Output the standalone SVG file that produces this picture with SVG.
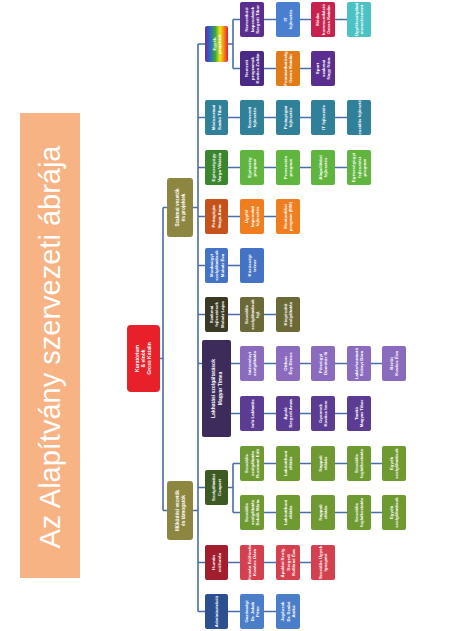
<svg xmlns="http://www.w3.org/2000/svg" width="473" height="631" viewBox="0 0 473 631">
<defs>
<linearGradient id="rainbow" x1="0" y1="0" x2="1" y2="0">
<stop offset="0" stop-color="#6a2c9c"/>
<stop offset="0.2" stop-color="#2f5fc8"/>
<stop offset="0.45" stop-color="#3aa93a"/>
<stop offset="0.65" stop-color="#f2e41a"/>
<stop offset="0.82" stop-color="#f28a1a"/>
<stop offset="1" stop-color="#e8202a"/>
</linearGradient>
</defs>
<style>
.t{font-family:"Liberation Sans",Arial,sans-serif;font-size:4.4px;font-weight:bold;fill:#fff;text-anchor:middle}
.c{fill:none;stroke:#4a6ea6;stroke-width:1.6}
rect{rx:2px}
</style>
<rect x="0" y="0" width="473" height="631" fill="#fff" style="rx:0"/>
<g id="title">
<rect x="20" y="113" width="60" height="465" fill="#f7b383" style="rx:0"/>
<text transform="translate(50,347) rotate(-90)" y="10" style="font-family:'Liberation Sans',Arial,sans-serif;font-size:29px;fill:#fff;text-anchor:middle">Az Alapítvány szervezeti ábrája</text>
</g>
<g id="connectors" class="c">
<path d="M160 358.5H163M163 207.5V510.5M163 207.5H167M163 510.5H167"/>
<path d="M193 207.5H198M198 44V611.5M198 44H205M198 117.5H205M198 167.5H205M198 216.5H205M198 265.5H205M198 314.5H205M198 363.5H202"/>
<path d="M193 510.5H198M198 487.5H205M198 562.5H205M198 611.5H205"/>
<path d="M228 44H233M233 19.5V68.5M233 19.5H240M233 68.5H240"/>
<path d="M264 19.5H276M300 19.5H311M335 19.5H347M264 68.5H276M300 68.5H311"/>
<path d="M228 117.5H240M264 117.5H276M300 117.5H311M335 117.5H347"/>
<path d="M228 167.5H240M264 167.5H276M300 167.5H311M335 167.5H347"/>
<path d="M228 216.5H240M264 216.5H276"/>
<path d="M228 265.5H240"/>
<path d="M228 314.5H240M264 314.5H276"/>
<path d="M231 363.5H240M264 363.5H276M300 363.5H311M335 363.5H347M370 363.5H382"/>
<path d="M231 413.5H240M264 413.5H276M300 413.5H311M335 413.5H347"/>
<path d="M228 487.5H233M233 463.5V512.5M233 463.5H240M233 512.5H240"/>
<path d="M264 463.5H276M300 463.5H311M335 463.5H347M370 463.5H382M264 512.5H276M300 512.5H311M335 512.5H347M370 512.5H382"/>
<path d="M228 562.5H240M264 562.5H276M300 562.5H311"/>
<path d="M228 611.5H240M264 611.5H276"/>
</g>
<g id="root"><rect x="127" y="325" width="33" height="67" fill="#e8202a" style="rx:4px"/>
<text class="t" transform="translate(143.5,358.5) rotate(-90)" style="font-size:5px"><tspan x="0" y="-4.2">Kuratórium</tspan><tspan x="0" y="1.7">&amp; elnök</tspan><tspan x="0" y="7.6">Gross Katalin</tspan></text></g>
<g id="l1-szakmai"><rect x="167" y="178" width="26" height="59" fill="#8c8641" style="rx:3px"/>
<text class="t" transform="translate(180,207.5) rotate(-90)" style="font-size:4.8px"><tspan x="0" y="-1.2">Szakmai vezetők</tspan><tspan x="0" y="4.8">és projektek</tspan></text></g>
<g id="l1-mukodesi"><rect x="167" y="481" width="26" height="59" fill="#8c8641" style="rx:3px"/>
<text class="t" transform="translate(180,510.5) rotate(-90)" style="font-size:4.8px"><tspan x="0" y="-1.2">Működési vezetők</tspan><tspan x="0" y="4.8">és támogatók</tspan></text></g>

<g id="egyeb"><rect x="205" y="26" width="23" height="36" fill="url(#rainbow)"/>
<text class="t" transform="translate(216.5,44) rotate(-90)"><tspan x="0" y="-1">Egyéb</tspan><tspan x="0" y="4.5">projektek</tspan></text></g>
<g id="egyeb-1a"><rect x="240" y="2" width="24" height="35" fill="#5b2d8e"/>
<text class="t" transform="translate(252,19.5) rotate(-90)"><tspan x="0" y="-3.9">Nemzetközi</tspan><tspan x="0" y="1.6">kapcsolatok</tspan><tspan x="0" y="7.1">Szegedi Tibor</tspan></text></g>
<g id="egyeb-1b"><rect x="276" y="2" width="24" height="35" fill="#4a7fcf"/>
<text class="t" transform="translate(288,19.5) rotate(-90)"><tspan x="0" y="-1.1">IT</tspan><tspan x="0" y="4.4">fejlesztés</tspan></text></g>
<g id="egyeb-1c"><rect x="311" y="2" width="24" height="35" fill="#c8214e"/>
<text class="t" transform="translate(323,19.5) rotate(-90)"><tspan x="0" y="-3.9">Média</tspan><tspan x="0" y="1.6">kommunikáció</tspan><tspan x="0" y="7.1">Gross Katalin</tspan></text></g>
<g id="egyeb-1d"><rect x="347" y="2" width="24" height="35" fill="#4cc2c4"/>
<text class="t" transform="translate(359,19.5) rotate(-90)"><tspan x="0" y="-1.1">Ügyfélszolgálati</tspan><tspan x="0" y="4.4">menedzsment</tspan></text></g>
<g id="egyeb-2a"><rect x="240" y="51" width="24" height="35" fill="#4b2a85"/>
<text class="t" transform="translate(252,68.5) rotate(-90)"><tspan x="0" y="-3.9">Nemzeti</tspan><tspan x="0" y="1.6">programok</tspan><tspan x="0" y="7.1">Kovács Zoltán</tspan></text></g>
<g id="egyeb-2b"><rect x="276" y="51" width="24" height="35" fill="#e07b1a"/>
<text class="t" transform="translate(288,68.5) rotate(-90)"><tspan x="0" y="-1.1">Fenntarthatóság</tspan><tspan x="0" y="4.4">Gross Katalin</tspan></text></g>
<g id="egyeb-2c"><rect x="311" y="51" width="24" height="35" fill="#5b2d8e"/>
<text class="t" transform="translate(323,68.5) rotate(-90)"><tspan x="0" y="-3.9">Sport</tspan><tspan x="0" y="1.6">szakmai</tspan><tspan x="0" y="7.1">Nagy Nóra</tspan></text></g>

<g id="modszertani"><rect x="205" y="100" width="23" height="35" fill="#31809a"/>
<text class="t" transform="translate(216.5,117.5) rotate(-90)"><tspan x="0" y="-1.1">Módszertani</tspan><tspan x="0" y="4.4">Szabó Tibor</tspan></text></g>
<g id="modsz-a"><rect x="240" y="100" width="24" height="35" fill="#31809a"/>
<text class="t" transform="translate(252,117.5) rotate(-90)"><tspan x="0" y="-1.1">Szervezeti</tspan><tspan x="0" y="4.4">fejlesztés</tspan></text></g>
<g id="modsz-b"><rect x="276" y="100" width="24" height="35" fill="#31809a"/>
<text class="t" transform="translate(288,117.5) rotate(-90)"><tspan x="0" y="-1.1">Pedagógiai</tspan><tspan x="0" y="4.4">fejlesztés</tspan></text></g>
<g id="modsz-c"><rect x="311" y="100" width="24" height="35" fill="#31809a"/>
<text class="t" transform="translate(323,117.5) rotate(-90)"><tspan x="0" y="1.6">IT fejlesztés</tspan></text></g>
<g id="modsz-d"><rect x="347" y="100" width="24" height="35" fill="#31809a"/>
<text class="t" transform="translate(359,117.5) rotate(-90)"><tspan x="0" y="1.6">Szociális fejlesztés</tspan></text></g>

<g id="egeszseg"><rect x="205" y="150" width="23" height="35" fill="#3a862e"/>
<text class="t" transform="translate(216.5,167.5) rotate(-90)"><tspan x="0" y="-1.1">Egészségügy</tspan><tspan x="0" y="4.4">Varga Viktória</tspan></text></g>
<g id="eg-a"><rect x="240" y="150" width="24" height="35" fill="#5fb53d"/>
<text class="t" transform="translate(252,167.5) rotate(-90)"><tspan x="0" y="-1.1">Egészség</tspan><tspan x="0" y="4.4">program</tspan></text></g>
<g id="eg-b"><rect x="276" y="150" width="24" height="35" fill="#5fb53d"/>
<text class="t" transform="translate(288,167.5) rotate(-90)"><tspan x="0" y="-1.1">Prevenciós</tspan><tspan x="0" y="4.4">program</tspan></text></g>
<g id="eg-c"><rect x="311" y="150" width="24" height="35" fill="#5fb53d"/>
<text class="t" transform="translate(323,167.5) rotate(-90)"><tspan x="0" y="-1.1">Alapellátási</tspan><tspan x="0" y="4.4">fejlesztés</tspan></text></g>
<g id="eg-d"><rect x="347" y="150" width="24" height="35" fill="#5fb53d"/>
<text class="t" transform="translate(359,167.5) rotate(-90)"><tspan x="0" y="-3.9">Egészségügyi</tspan><tspan x="0" y="1.6">fejlesztési</tspan><tspan x="0" y="7.1">program</tspan></text></g>

<g id="pedagogia"><rect x="205" y="199" width="23" height="35" fill="#c4521a"/>
<text class="t" transform="translate(216.5,216.5) rotate(-90)"><tspan x="0" y="-1.1">Pedagógia</tspan><tspan x="0" y="4.4">Varga Anna</tspan></text></g>
<g id="ped-a"><rect x="240" y="199" width="24" height="35" fill="#f07e1f"/>
<text class="t" transform="translate(252,216.5) rotate(-90)"><tspan x="0" y="-3.9">Ügyfél</tspan><tspan x="0" y="1.6">kapcsolati</tspan><tspan x="0" y="7.1">fejlesztés</tspan></text></g>
<g id="ped-b"><rect x="276" y="199" width="24" height="35" fill="#f07e1f"/>
<text class="t" transform="translate(288,216.5) rotate(-90)"><tspan x="0" y="-1.1">Mentorálási</tspan><tspan x="0" y="4.4">program (MM)</tspan></text></g>

<g id="munkaugy"><rect x="205" y="248" width="23" height="35" fill="#4472c4"/>
<text class="t" transform="translate(216.5,265.5) rotate(-90)"><tspan x="0" y="-3.9">Munkaügyi</tspan><tspan x="0" y="1.6">szolgáltatások</tspan><tspan x="0" y="7.1">Molnár Éva</tspan></text></g>
<g id="munka-a"><rect x="240" y="248" width="24" height="35" fill="#4472c4"/>
<text class="t" transform="translate(252,265.5) rotate(-90)"><tspan x="0" y="-1.1">Közösségi</tspan><tspan x="0" y="4.4">tréner</tspan></text></g>

<g id="szakmai"><rect x="205" y="297" width="23" height="35" fill="#3b3923"/>
<text class="t" transform="translate(216.5,314.5) rotate(-90)"><tspan x="0" y="-3.9">Szakmai</tspan><tspan x="0" y="1.6">fejlesztések</tspan><tspan x="0" y="7.1">Molnár Lajos</tspan></text></g>
<g id="szak-a"><rect x="240" y="297" width="24" height="35" fill="#6b6936"/>
<text class="t" transform="translate(252,314.5) rotate(-90)"><tspan x="0" y="-3.9">Szociális</tspan><tspan x="0" y="1.6">szolgáltatások</tspan><tspan x="0" y="7.1">fejl.</tspan></text></g>
<g id="szak-b"><rect x="276" y="297" width="24" height="35" fill="#6b6936"/>
<text class="t" transform="translate(288,314.5) rotate(-90)"><tspan x="0" y="-1.1">Kiegészítő</tspan><tspan x="0" y="4.4">szolgáltatás</tspan></text></g>

<g id="lakhatasi"><rect x="202" y="340" width="29" height="97" fill="#3d2b5c"/>
<text class="t" transform="translate(216.5,388.5) rotate(-90)" style="font-size:5px"><tspan x="0" y="-1.2">Lakhatási szolgáltatások</tspan><tspan x="0" y="5">Magyar Tímea</tspan></text></g>
<g id="lak-1a"><rect x="240" y="346" width="24" height="35" fill="#8a6bbd"/>
<text class="t" transform="translate(252,363.5) rotate(-90)"><tspan x="0" y="-1.1">Intézményi</tspan><tspan x="0" y="4.4">szolgáltatás</tspan></text></g>
<g id="lak-1b"><rect x="276" y="346" width="24" height="35" fill="#8a6bbd"/>
<text class="t" transform="translate(288,363.5) rotate(-90)"><tspan x="0" y="-1.1">Otthon</tspan><tspan x="0" y="4.4">Évy Dénes</tspan></text></g>
<g id="lak-1c"><rect x="311" y="346" width="24" height="35" fill="#8a6bbd"/>
<text class="t" transform="translate(323,363.5) rotate(-90)"><tspan x="0" y="-1.1">Pénzügyi</tspan><tspan x="0" y="4.4">Dömötör Ili</tspan></text></g>
<g id="lak-1d"><rect x="347" y="346" width="24" height="35" fill="#8a6bbd"/>
<text class="t" transform="translate(359,363.5) rotate(-90)"><tspan x="0" y="-1.1">Lakásfenntartó</tspan><tspan x="0" y="4.4">Szőnyi Dóra</tspan></text></g>
<g id="lak-1e"><rect x="382" y="346" width="24" height="35" fill="#8a6bbd"/>
<text class="t" transform="translate(394,363.5) rotate(-90)"><tspan x="0" y="-1.1">Bérlői</tspan><tspan x="0" y="4.4">Kovács Éva</tspan></text></g>
<g id="lak-2a"><rect x="240" y="396" width="24" height="35" fill="#5c3b93"/>
<text class="t" transform="translate(252,413.5) rotate(-90)"><tspan x="0" y="1.6">Infó Lakhatás</tspan></text></g>
<g id="lak-2b"><rect x="276" y="396" width="24" height="35" fill="#5c3b93"/>
<text class="t" transform="translate(288,413.5) rotate(-90)"><tspan x="0" y="-1.1">Ápoló</tspan><tspan x="0" y="4.4">Szegedi Anna</tspan></text></g>
<g id="lak-2c"><rect x="311" y="396" width="24" height="35" fill="#5c3b93"/>
<text class="t" transform="translate(323,413.5) rotate(-90)"><tspan x="0" y="-1.1">Gyermek</tspan><tspan x="0" y="4.4">Kovács Imre</tspan></text></g>
<g id="lak-2d"><rect x="347" y="396" width="24" height="35" fill="#5c3b93"/>
<text class="t" transform="translate(359,413.5) rotate(-90)"><tspan x="0" y="-1.1">Tanító</tspan><tspan x="0" y="4.4">Magyar Tibor</tspan></text></g>

<g id="szolgaltatasi"><rect x="205" y="470" width="23" height="35" fill="#3c5a21"/>
<text class="t" transform="translate(216.5,487.5) rotate(-90)"><tspan x="0" y="-1.1">Szolgáltatási</tspan><tspan x="0" y="4.4">Csoport</tspan></text></g>
<g id="szolg-1a"><rect x="240" y="446" width="24" height="35" fill="#6f9a32"/>
<text class="t" transform="translate(252,463.5) rotate(-90)"><tspan x="0" y="-3.9">Szociális</tspan><tspan x="0" y="1.6">szolgáltatás</tspan><tspan x="0" y="7.1">Ruzsinné Edit</tspan></text></g>
<g id="szolg-1b"><rect x="276" y="446" width="24" height="35" fill="#6f9a32"/>
<text class="t" transform="translate(288,463.5) rotate(-90)"><tspan x="0" y="-1.1">Lakóotthoni</tspan><tspan x="0" y="4.4">ellátás</tspan></text></g>
<g id="szolg-1c"><rect x="311" y="446" width="24" height="35" fill="#6f9a32"/>
<text class="t" transform="translate(323,463.5) rotate(-90)"><tspan x="0" y="-1.1">Nappali</tspan><tspan x="0" y="4.4">ellátás</tspan></text></g>
<g id="szolg-1d"><rect x="347" y="446" width="24" height="35" fill="#6f9a32"/>
<text class="t" transform="translate(359,463.5) rotate(-90)"><tspan x="0" y="-1.1">Szociális</tspan><tspan x="0" y="4.4">foglalkoztatás</tspan></text></g>
<g id="szolg-1e"><rect x="382" y="446" width="24" height="35" fill="#6f9a32"/>
<text class="t" transform="translate(394,463.5) rotate(-90)"><tspan x="0" y="-1.1">Egyéb</tspan><tspan x="0" y="4.4">szolgáltatások</tspan></text></g>
<g id="szolg-2a"><rect x="240" y="495" width="24" height="35" fill="#6f9a32"/>
<text class="t" transform="translate(252,512.5) rotate(-90)"><tspan x="0" y="-3.9">Szociális</tspan><tspan x="0" y="1.6">szolgáltatás</tspan><tspan x="0" y="7.1">Sebők Mária</tspan></text></g>
<g id="szolg-2b"><rect x="276" y="495" width="24" height="35" fill="#6f9a32"/>
<text class="t" transform="translate(288,512.5) rotate(-90)"><tspan x="0" y="-1.1">Lakóotthoni</tspan><tspan x="0" y="4.4">ellátás</tspan></text></g>
<g id="szolg-2c"><rect x="311" y="495" width="24" height="35" fill="#6f9a32"/>
<text class="t" transform="translate(323,512.5) rotate(-90)"><tspan x="0" y="-1.1">Nappali</tspan><tspan x="0" y="4.4">ellátás</tspan></text></g>
<g id="szolg-2d"><rect x="347" y="495" width="24" height="35" fill="#6f9a32"/>
<text class="t" transform="translate(359,512.5) rotate(-90)"><tspan x="0" y="-1.1">Szociális</tspan><tspan x="0" y="4.4">foglalkoztatás</tspan></text></g>
<g id="szolg-2e"><rect x="382" y="495" width="24" height="35" fill="#6f9a32"/>
<text class="t" transform="translate(394,512.5) rotate(-90)"><tspan x="0" y="-1.1">Egyéb</tspan><tspan x="0" y="4.4">szolgáltatások</tspan></text></g>

<g id="human"><rect x="205" y="545" width="23" height="35" fill="#a21d2e"/>
<text class="t" transform="translate(216.5,562.5) rotate(-90)"><tspan x="0" y="-1.1">Humán</tspan><tspan x="0" y="4.4">erőforrás</tspan></text></g>
<g id="hum-a"><rect x="240" y="545" width="24" height="35" fill="#d5404f"/>
<text class="t" transform="translate(252,562.5) rotate(-90)"><tspan x="0" y="-1.1">Humán Erőforrás</tspan><tspan x="0" y="4.4">Kovács Dóra</tspan></text></g>
<g id="hum-b"><rect x="276" y="545" width="24" height="35" fill="#d5404f"/>
<text class="t" transform="translate(288,562.5) rotate(-90)"><tspan x="0" y="-3.9">Ápolási Szolg.</tspan><tspan x="0" y="1.6">Szegedi</tspan><tspan x="0" y="7.1">Kollárné Éva</tspan></text></g>
<g id="hum-c"><rect x="311" y="545" width="24" height="35" fill="#d5404f"/>
<text class="t" transform="translate(323,562.5) rotate(-90)"><tspan x="0" y="-1.1">Szociális Ügyek</tspan><tspan x="0" y="4.4">Igazgató</tspan></text></g>

<g id="admin"><rect x="205" y="594" width="23" height="35" fill="#2c4f8f"/>
<text class="t" transform="translate(216.5,611.5) rotate(-90)"><tspan x="0" y="1.6">Adminisztráció</tspan></text></g>
<g id="adm-a"><rect x="240" y="594" width="24" height="35" fill="#4a7ec9"/>
<text class="t" transform="translate(252,611.5) rotate(-90)"><tspan x="0" y="-3.9">Gazdasági</tspan><tspan x="0" y="1.6">Dr. Jakab</tspan><tspan x="0" y="7.1">Péter</tspan></text></g>
<g id="adm-b"><rect x="276" y="594" width="24" height="35" fill="#4a7ec9"/>
<text class="t" transform="translate(288,611.5) rotate(-90)"><tspan x="0" y="-3.9">Jogászok</tspan><tspan x="0" y="1.6">Dr. Szabó</tspan><tspan x="0" y="7.1">Anikó</tspan></text></g>
</svg>
